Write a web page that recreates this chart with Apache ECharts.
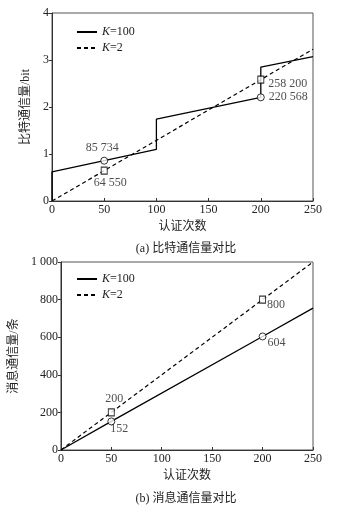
<!DOCTYPE html>
<html><head><meta charset="utf-8">
<style>html,body{margin:0;padding:0;background:#fff}#c{width:338px;height:508px}</style>
<script src="https://cdn.jsdelivr.net/npm/echarts@6/dist/echarts.min.js"></script>
</head><body><div id="c"></div>
<script>
// ---- data ----
const xTicks = [0, 50, 100, 150, 200, 250];
// (a) bit communication
const bitK100X = [0, 0, 100, 100, 200, 200, 250];
const bitK100Y = [0, 0.62, 1.1, 1.74, 2.20568, 2.85, 3.07];
const bitK2X = [0, 50, 200, 250];
const bitK2Y = [0, 0.6455, 2.582, 3.23];
const markX = [50, 200];
const bitK100Mark = [0.85734, 2.20568];
const bitK100MarkLabels = ['85 734', '220 568'];
const bitK2Mark = [0.6455, 2.582];
const bitK2MarkLabels = ['64 550', '258 200'];
const bitYTicks = [0, 1, 2, 3, 4];
// (b) message communication
const msgX = [0, 50, 200, 250];
const msgK100 = [0, 152, 604, 755];
const msgK2 = [0, 200, 800, 1000];
const msgK100Mark = [152, 604];
const msgK100MarkLabels = ['152', '604'];
const msgK2Mark = [200, 800];
const msgK2MarkLabels = ['200', '800'];
const msgYTicks = [0, 200, 400, 600, 800, 1000];

const serif = '"Liberation Serif","Noto Sans CJK SC",serif';
const axisColor = '#333';
const txt = '#222';

function pairs(xs, ys){ return xs.map((x,i)=>[x, ys[i]]); }
function marks(ys, labels, cfgs){
  return markX.map((x,i)=>({value:[x, ys[i]], label:Object.assign({show:true, formatter:labels[i]}, cfgs[i])}));
}

function xAxis(gi){
  return {
    gridIndex: gi, type:'value', min:0, max:250, interval:50,
    name:'认证次数', nameLocation:'middle', nameGap:20,
    nameTextStyle:{fontFamily:serif, fontSize:12, color:txt},
    axisLine:{show:true, lineStyle:{color:axisColor, width:1}},
    axisTick:{show:true, inside:true, length:3, lineStyle:{color:axisColor}},
    axisLabel:{fontFamily:serif, fontSize:12, color:txt, margin:3},
    splitLine:{show:false}
  };
}
function yAxis(gi, max, interval, name, gap, fmt){
  return {
    gridIndex: gi, type:'value', min:0, max:max, interval:interval,
    name:name, nameLocation:'middle', nameGap:gap, nameRotate:90,
    nameTextStyle:{fontFamily:serif, fontSize:12, color:txt},
    axisLine:{show:true, lineStyle:{color:axisColor, width:1}},
    axisTick:{show:true, inside:false, length:3, lineStyle:{color:axisColor}},
    axisLabel:{fontFamily:serif, fontSize:12, color:txt, margin:3, formatter:fmt},
    splitLine:{show:false}
  };
}
const lineSolid = {color:'#000', width:1.3, type:'solid'};
const lineDash = {color:'#000', width:1.2, type:[4,3]};
const circleStyle = {color:'#fff', borderColor:'#000', borderWidth:1};
const labelBase = {fontFamily:serif, fontSize:12, color:txt};

function legend(gi, top){
  return {
    top: top, left: 71, orient:'vertical', itemWidth:20, itemHeight:12, itemGap:4,
    data: gi===0 ? ['K=100','K=2'] : ['K=100 ','K=2 '],
    itemStyle:{opacity:0, color:'rgba(0,0,0,0)', borderColor:'rgba(0,0,0,0)', borderWidth:0},
    textStyle:{fontFamily:serif, fontSize:12, color:txt, rich:{i:{fontStyle:'italic', fontFamily:serif, fontSize:12, color:txt}}},
    formatter: n => '{i|K}' + n.trim().slice(1),
    selectedMode:false
  };
}

const option = {
  backgroundColor:'#fff',
  animation:false,
  title:[
    {text:'(a) 比特通信量对比', left:181, textAlign:'center', top:238, textStyle:{fontFamily:serif, fontSize:12, fontWeight:'normal', color:txt}},
    {text:'(b) 消息通信量对比', left:181, textAlign:'center', top:488, textStyle:{fontFamily:serif, fontSize:12, fontWeight:'normal', color:txt}}
  ],
  grid:[
    {left:52, right:25, top:13, height:188, show:true, borderColor:'#555', borderWidth:1},
    {left:52, right:25, top:262, height:188, show:true, borderColor:'#555', borderWidth:1}
  ],
  legend:[legend(0, 21), legend(1, 268)],
  xAxis:[xAxis(0), xAxis(1)],
  yAxis:[
    yAxis(0, 4, 1, '比特通信量/bit', 18, v=>String(v)),
    yAxis(1, 1000, 200, '消息通信量/条', 34, v=> v>=1000 ? String(v).replace(/(\d)(\d{3})$/, '$1 $2') : String(v))
  ],
  series:[
    {name:'K=100', type:'line', xAxisIndex:0, yAxisIndex:0, data:pairs(bitK100X, bitK100Y), symbol:'none', lineStyle:lineSolid, itemStyle:{color:'#000'}},
    {name:'K=2', type:'line', xAxisIndex:0, yAxisIndex:0, data:pairs(bitK2X, bitK2Y), symbol:'none', lineStyle:lineDash, itemStyle:{color:'#000'}},
    {type:'scatter', xAxisIndex:0, yAxisIndex:0, symbol:'circle', symbolSize:7, itemStyle:circleStyle, z:5,
      label:labelBase,
      data: marks(bitK100Mark, bitK100MarkLabels, [
        {position:'top', distance:3, offset:[-2,0]},
        {position:'right', distance:4, offset:[0,0]}
      ])},
    {type:'scatter', xAxisIndex:0, yAxisIndex:0, symbol:'rect', symbolSize:[6,7], itemStyle:circleStyle, z:5,
      label:labelBase,
      data: marks(bitK2Mark, bitK2MarkLabels, [
        {position:'bottom', distance:2, offset:[6,0]},
        {position:'right', distance:4, offset:[0,4]}
      ])},
    {name:'K=100 ', type:'line', xAxisIndex:1, yAxisIndex:1, data:pairs(msgX, msgK100), symbol:'none', lineStyle:lineSolid, itemStyle:{color:'#000'}},
    {name:'K=2 ', type:'line', xAxisIndex:1, yAxisIndex:1, data:pairs(msgX, msgK2), symbol:'none', lineStyle:lineDash, itemStyle:{color:'#000'}},
    {type:'scatter', xAxisIndex:1, yAxisIndex:1, symbol:'circle', symbolSize:7, itemStyle:circleStyle, z:5,
      label:labelBase,
      data: marks(msgK100Mark, msgK100MarkLabels, [
        {position:'right', distance:0, offset:[-5,7]},
        {position:'right', distance:1, offset:[0,6]}
      ])},
    {type:'scatter', xAxisIndex:1, yAxisIndex:1, symbol:'rect', symbolSize:[6,7], itemStyle:circleStyle, z:5,
      label:labelBase,
      data: marks(msgK2Mark, msgK2MarkLabels, [
        {position:'top', distance:4, offset:[3,0]},
        {position:'right', distance:1, offset:[0,5]}
      ])}
  ]
};
const chart = echarts.init(document.getElementById('c'), null, {renderer:'canvas'});
chart.setOption(option);
</script></body></html>
